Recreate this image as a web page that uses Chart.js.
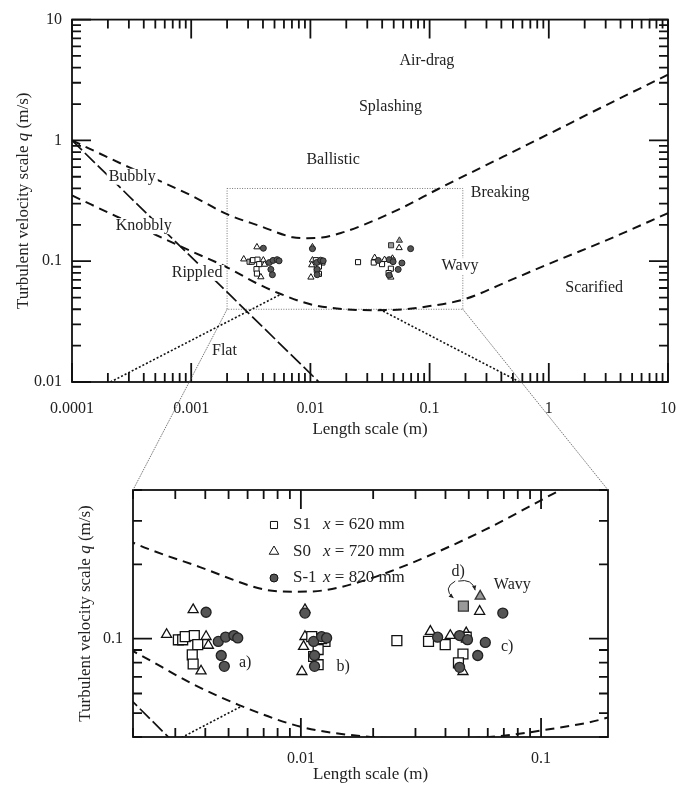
<!DOCTYPE html>
<html>
<head>
<meta charset="utf-8">
<script src="https://cdn.jsdelivr.net/npm/chart.js@4.4.1/dist/chart.umd.min.js"></script>
<style>
  html, body { margin: 0; padding: 0; background: #fff; }
  #wrap { position: relative; width: 695px; height: 788px; }
  #top { position: absolute; left: 0; top: 0; }
  #bottom { position: absolute; left: 0; top: 445px; }
  #overlay { position: absolute; left: 0; top: 0; pointer-events: none; }
</style>
</head>
<body>
<div id="wrap">
  <canvas id="top" width="695" height="445"></canvas>
  <canvas id="bottom" width="695" height="343"></canvas>
  <canvas id="overlay" width="695" height="788"></canvas>
</div>
<script>
// tick labels
const topXTicks = [0.0001, 0.001, 0.01, 0.1, 1, 10];
const topYTicks = [0.01, 0.1, 1, 10];
const zoomXTicks = [0.01, 0.1];
const zoomYTicks = [0.1];

// zoomed window (dotted box in the top chart)
const zoomBox = { xMin: 0.002, xMax: 0.19, yMin: 0.04, yMax: 0.4 };

// regime boundaries
const upperCurve = [
  { x: 0.0001, y: 1.0 }, { x: 0.0003, y: 0.6 }, { x: 0.001, y: 0.35 },
  { x: 0.002, y: 0.245 }, { x: 0.0038, y: 0.195 }, { x: 0.0071, y: 0.158 },
  { x: 0.0095, y: 0.155 }, { x: 0.0125, y: 0.157 }, { x: 0.018, y: 0.171 },
  { x: 0.028, y: 0.2 }, { x: 0.058, y: 0.275 }, { x: 0.118, y: 0.396 },
  { x: 0.4, y: 0.72 }, { x: 1, y: 1.13 }, { x: 3, y: 1.95 }, { x: 10, y: 3.5 }
];
const lowerCurve = [
  { x: 0.0001, y: 0.35 }, { x: 0.0003, y: 0.21 }, { x: 0.001, y: 0.121 },
  { x: 0.002, y: 0.089 }, { x: 0.0035, y: 0.066 }, { x: 0.0055, y: 0.054 },
  { x: 0.01, y: 0.044 }, { x: 0.0185, y: 0.0402 }, { x: 0.035, y: 0.0393 },
  { x: 0.065, y: 0.0402 }, { x: 0.1, y: 0.0425 }, { x: 0.19, y: 0.048 },
  { x: 0.5, y: 0.071 }, { x: 1, y: 0.095 }, { x: 3, y: 0.148 }, { x: 10, y: 0.25 }
];
const steepLine = [{ x: 0.0001, y: 1.0 }, { x: 0.0118, y: 0.01 }];
const dottedLeft = [{ x: 0.00021, y: 0.01 }, { x: 0.0056, y: 0.053 }];
const dottedRight = [{ x: 0.038, y: 0.04 }, { x: 0.57, y: 0.01 }];

// measurements
const s1Points = [
  { x: 0.00309, y: 0.099 }, { x: 0.00322, y: 0.099 }, { x: 0.0033, y: 0.102 },
  { x: 0.0036, y: 0.103 }, { x: 0.00372, y: 0.0946 }, { x: 0.00353, y: 0.086 },
  { x: 0.00356, y: 0.079 },
  { x: 0.0111, y: 0.102 }, { x: 0.0126, y: 0.0975 }, { x: 0.0113, y: 0.0847 },
  { x: 0.0118, y: 0.0904 }, { x: 0.0118, y: 0.0785 }, { x: 0.0122, y: 0.1 },
  { x: 0.0251, y: 0.0982 }, { x: 0.034, y: 0.0975 }, { x: 0.0399, y: 0.0946 },
  { x: 0.0473, y: 0.0867 }, { x: 0.0453, y: 0.0798 }, { x: 0.0488, y: 0.1014 }
];
const s0Points = [
  { x: 0.00356, y: 0.131 }, { x: 0.00276, y: 0.104 }, { x: 0.00403, y: 0.102 },
  { x: 0.00412, y: 0.094 }, { x: 0.00384, y: 0.074 },
  { x: 0.0104, y: 0.131 }, { x: 0.0104, y: 0.102 }, { x: 0.01026, y: 0.093 },
  { x: 0.0101, y: 0.0736 },
  { x: 0.0346, y: 0.107 }, { x: 0.0419, y: 0.103 }, { x: 0.0488, y: 0.1055 },
  { x: 0.0473, y: 0.0736 }, { x: 0.0555, y: 0.129 }
];
const sm1Points = [
  { x: 0.00403, y: 0.128 }, { x: 0.00453, y: 0.0975 }, { x: 0.00486, y: 0.1015 },
  { x: 0.00526, y: 0.103 }, { x: 0.00546, y: 0.1007 }, { x: 0.00466, y: 0.0855 },
  { x: 0.0048, y: 0.0773 },
  { x: 0.0104, y: 0.127 }, { x: 0.0113, y: 0.0975 }, { x: 0.0122, y: 0.102 },
  { x: 0.0128, y: 0.1007 }, { x: 0.0114, y: 0.0855 }, { x: 0.0114, y: 0.0773 },
  { x: 0.0371, y: 0.1014 }, { x: 0.0458, y: 0.103 }, { x: 0.0494, y: 0.0991 },
  { x: 0.0586, y: 0.0966 }, { x: 0.0545, y: 0.0855 }, { x: 0.0458, y: 0.0766 },
  { x: 0.0693, y: 0.127 }
];
const dSquare = [{ x: 0.0475, y: 0.1355 }];
const dTriangle = [{ x: 0.0558, y: 0.1486 }];

const regionLabels = [
  { text: 'Air-drag', x: 0.095, y: 4.6 },
  { text: 'Splashing', x: 0.047, y: 1.9 },
  { text: 'Ballistic', x: 0.0155, y: 0.69 },
  { text: 'Breaking', x: 0.39, y: 0.37 },
  { text: 'Bubbly', x: 0.00032, y: 0.5 },
  { text: 'Knobbly', x: 0.0004, y: 0.195 },
  { text: 'Rippled', x: 0.00112, y: 0.08 },
  { text: 'Flat', x: 0.0019, y: 0.018 },
  { text: 'Wavy', x: 0.18, y: 0.091 },
  { text: 'Scarified', x: 2.4, y: 0.06 }
];
const zoomLabels = [
  { text: 'a)', x: 0.00586, y: 0.08 },
  { text: 'b)', x: 0.015, y: 0.077 },
  { text: 'c)', x: 0.0723, y: 0.093 },
  { text: 'd)', x: 0.0452, y: 0.186 },
  { text: 'Wavy', x: 0.0759, y: 0.166 }
];

const SERIF = '"Liberation Serif", "Times New Roman", serif';
Chart.defaults.font.family = SERIF;
Chart.defaults.font.size = 16;
Chart.defaults.color = '#222';

function curve(data, dash, width) {
  return {
    data: data, showLine: true, pointRadius: 0, borderColor: '#111',
    borderWidth: width, borderDash: dash, cubicInterpolationMode: 'monotone', order: 10
  };
}
function marker(data, style, radius, fill, stroke, bw, order) {
  return {
    data: data, pointStyle: style, pointRadius: radius, backgroundColor: fill,
    borderColor: stroke, pointBorderWidth: bw, order: order
  };
}
function datasets(big) {
  const r = big ? { sq: 7, tri: 5.8, ci: 5, bw: 1.3 } : { sq: 3.6, tri: 3.6, ci: 3, bw: 1 };
  return [
    curve(upperCurve, [9, 6], 2),
    curve(lowerCurve, [9, 6], 2),
    curve(steepLine, [14, 4], 1.7),
    curve(dottedLeft, [2, 2], 1.6),
    curve(dottedRight, [2, 2], 1.6),
    marker(s0Points, 'triangle', r.tri, '#fff', '#111', r.bw, 4),
    marker(s1Points, 'rect', r.sq, '#fff', '#111', r.bw, 3),
    marker(sm1Points, 'circle', r.ci, '#555', '#222', r.bw, 2),
    marker(dSquare, 'rect', r.sq, '#999', '#333', r.bw, 1),
    marker(dTriangle, 'triangle', r.tri, '#999', '#333', r.bw, 1)
  ];
}

function axis(pos, min, max, ticks, size, pad) {
  return {
    type: 'logarithmic', position: pos, min: min, max: max,
    grid: { display: false, drawTicks: false },
    border: { display: false },
    ticks: { autoSkip: false, maxRotation: 0, padding: pad, callback: v => String(v) },
    afterBuildTicks: s => { s.ticks = ticks.map(v => ({ value: v })); },
    afterFit: s => { if (pos === 'left') s.width = size; else s.height = size; }
  };
}

function logTicks(scale) {
  const out = [];
  const lo = Math.floor(Math.log10(scale.min)), hi = Math.ceil(Math.log10(scale.max));
  for (let d = lo; d <= hi; d++) {
    for (let m = 1; m <= 9; m++) {
      const v = m * Math.pow(10, d);
      if (v >= scale.min * 0.999 && v <= scale.max * 1.001) out.push({ v: v, major: m === 1 });
    }
  }
  return out;
}

function drawParts(ctx, parts, cx, cy, size, rotate, align) {
  ctx.save();
  ctx.translate(cx, cy);
  if (rotate) ctx.rotate(-Math.PI / 2);
  let total = 0;
  parts.forEach(p => {
    ctx.font = (p.i ? 'italic ' : '') + size + 'px ' + SERIF;
    p.w = ctx.measureText(p.t).width;
    total += p.w;
  });
  let x = align === 'left' ? 0 : -total / 2;
  ctx.textBaseline = 'middle';
  ctx.textAlign = 'left';
  ctx.fillStyle = '#222';
  parts.forEach(p => {
    ctx.font = (p.i ? 'italic ' : '') + size + 'px ' + SERIF;
    ctx.fillText(p.t, x, 0);
    x += p.w;
  });
  ctx.restore();
}

const yTitle = [{ t: 'Turbulent velocity scale ' }, { t: 'q', i: true }, { t: ' (m/s)' }];

function framePlugin(major, minor, titleDy, titleX) {
  return {
    id: 'frame',
    afterDraw(chart) {
      const { ctx, chartArea: a, scales } = chart;
      ctx.save();
      ctx.strokeStyle = '#111';
      ctx.lineWidth = 1.8;
      ctx.beginPath();
      logTicks(scales.x).forEach(t => {
        const px = scales.x.getPixelForValue(t.v);
        const len = t.major ? major : minor;
        ctx.moveTo(px, a.bottom); ctx.lineTo(px, a.bottom - len);
        ctx.moveTo(px, a.top); ctx.lineTo(px, a.top + len);
      });
      logTicks(scales.y).forEach(t => {
        const py = scales.y.getPixelForValue(t.v);
        const len = t.major ? major : minor;
        ctx.moveTo(a.left, py); ctx.lineTo(a.left + len, py);
        ctx.moveTo(a.right, py); ctx.lineTo(a.right - len, py);
      });
      ctx.stroke();
      ctx.strokeRect(a.left, a.top, a.right - a.left, a.bottom - a.top);
      ctx.restore();
      drawParts(ctx, [{ t: 'Length scale (m)' }], (a.left + a.right) / 2, a.bottom + titleDy, 17, false);
      drawParts(ctx, yTitle, titleX, (a.top + a.bottom) / 2, 17, true);
    }
  };
}

function labelPlugin(list) {
  return {
    id: 'labels',
    afterDatasetsDraw(chart) {
      const { ctx, scales } = chart;
      ctx.save();
      ctx.font = '16px ' + SERIF;
      ctx.textAlign = 'center';
      ctx.textBaseline = 'middle';
      list.forEach(l => {
        const px = scales.x.getPixelForValue(l.x), py = scales.y.getPixelForValue(l.y);
        const w = ctx.measureText(l.text).width;
        ctx.fillStyle = '#fff';
        ctx.fillRect(px - w / 2 - 2, py - 8, w + 4, 16);
        ctx.fillStyle = '#222';
        ctx.fillText(l.text, px, py);
      });
      ctx.restore();
    }
  };
}

const boxPlugin = {
  id: 'zoomBox',
  beforeDatasetsDraw(chart) {
    const { ctx, scales } = chart;
    const x0 = scales.x.getPixelForValue(zoomBox.xMin), x1 = scales.x.getPixelForValue(zoomBox.xMax);
    const y0 = scales.y.getPixelForValue(zoomBox.yMax), y1 = scales.y.getPixelForValue(zoomBox.yMin);
    ctx.save();
    ctx.strokeStyle = '#777';
    ctx.lineWidth = 1;
    ctx.setLineDash([1, 1.5]);
    ctx.strokeRect(x0, y0, x1 - x0, y1 - y0);
    ctx.restore();
  }
};

const legendRows = [
  { style: 'rect', r: 5, fill: '#fff', parts: [{ t: 'S1' }], rest: ' = 620 mm' },
  { style: 'triangle', r: 5.5, fill: '#fff', parts: [{ t: 'S0' }], rest: ' = 720 mm' },
  { style: 'circle', r: 4, fill: '#555', parts: [{ t: 'S-1' }], rest: ' = 820 mm' }
];

function arrowHead(ctx, fx, fy, tx, ty) {
  const ang = Math.atan2(ty - fy, tx - fx);
  ctx.beginPath();
  ctx.moveTo(tx, ty);
  ctx.lineTo(tx - 5 * Math.cos(ang - 0.45), ty - 5 * Math.sin(ang - 0.45));
  ctx.lineTo(tx - 5 * Math.cos(ang + 0.45), ty - 5 * Math.sin(ang + 0.45));
  ctx.closePath();
  ctx.fill();
}

const zoomExtras = {
  id: 'zoomExtras',
  afterDatasetsDraw(chart) {
    const { ctx, chartArea: a, scales } = chart;
    // legend
    ctx.save();
    legendRows.forEach((row, i) => {
      const y = a.top + 35 + i * 26.5;
      ctx.fillStyle = row.fill;
      ctx.strokeStyle = '#111';
      Chart.helpers.drawPoint(ctx, { pointStyle: row.style, radius: row.r, borderWidth: 1.2, rotation: 0 }, a.left + 141, y);
      drawParts(ctx, row.parts, a.left + 160, y, 17, false, 'left');
      drawParts(ctx, [{ t: 'x', i: true }, { t: row.rest }], a.left + 190, y, 17, false, 'left');
    });
    // arrows from d)
    const d = zoomLabels[3];
    const lx = scales.x.getPixelForValue(d.x), ly = scales.y.getPixelForValue(d.y);
    const sx = scales.x.getPixelForValue(dSquare[0].x), sy = scales.y.getPixelForValue(dSquare[0].y);
    const tx = scales.x.getPixelForValue(dTriangle[0].x), ty = scales.y.getPixelForValue(dTriangle[0].y);
    ctx.strokeStyle = '#222';
    ctx.fillStyle = '#222';
    ctx.lineWidth = 1;
    ctx.beginPath();
    ctx.moveTo(lx - 3, ly + 9);
    ctx.quadraticCurveTo(lx - 16, ly + 16, sx - 10, sy - 8);
    ctx.stroke();
    arrowHead(ctx, lx - 16, ly + 16, sx - 10, sy - 8);
    ctx.beginPath();
    ctx.moveTo(lx, ly + 9);
    ctx.quadraticCurveTo(tx - 8, ly + 6, tx - 5, ty - 6);
    ctx.stroke();
    arrowHead(ctx, tx - 8, ly + 6, tx - 5, ty - 6);
    ctx.restore();
  }
};

const common = {
  animation: false, responsive: false, events: [],
  plugins: { legend: { display: false }, tooltip: { enabled: false } }
};

const topChart = new Chart(document.getElementById('top'), {
  type: 'scatter',
  data: { datasets: datasets(false) },
  options: Object.assign({}, common, {
    layout: { padding: { left: 0, right: 27, top: 11, bottom: 0 } },
    scales: {
      x: axis('bottom', 0.0001, 10, topXTicks, 63, 17),
      y: axis('left', 0.01, 10, topYTicks, 72, 10)
    }
  }),
  plugins: [boxPlugin, labelPlugin(regionLabels), framePlugin(19, 9, 48, 24)]
});

const zoomChart = new Chart(document.getElementById('bottom'), {
  type: 'scatter',
  data: { datasets: datasets(true) },
  options: Object.assign({}, common, {
    layout: { padding: { left: 0, right: 87, top: 45, bottom: 0 } },
    scales: {
      x: axis('bottom', zoomBox.xMin, zoomBox.xMax, zoomXTicks, 51, 12),
      y: axis('left', zoomBox.yMin, zoomBox.yMax, zoomYTicks, 133, 10)
    }
  }),
  plugins: [labelPlugin(zoomLabels), zoomExtras, framePlugin(19, 9, 38, 86)]
});

function drawOverlay() {
  const c = document.getElementById('overlay').getContext('2d');
  c.clearRect(0, 0, 695, 788);
  const sx = topChart.scales.x, sy = topChart.scales.y;
  const x0 = sx.getPixelForValue(zoomBox.xMin), x1 = sx.getPixelForValue(zoomBox.xMax);
  const yb = sy.getPixelForValue(zoomBox.yMin);
  const off = document.getElementById('bottom').offsetTop;
  const a = zoomChart.chartArea;
  c.strokeStyle = '#555';
  c.lineWidth = 0.8;
  c.setLineDash([1.5, 1]);
  c.beginPath();
  c.moveTo(x0, yb); c.lineTo(a.left, a.top + off);
  c.moveTo(x1, yb); c.lineTo(a.right, a.top + off);
  c.stroke();
}
drawOverlay();
</script>
</body>
</html>
